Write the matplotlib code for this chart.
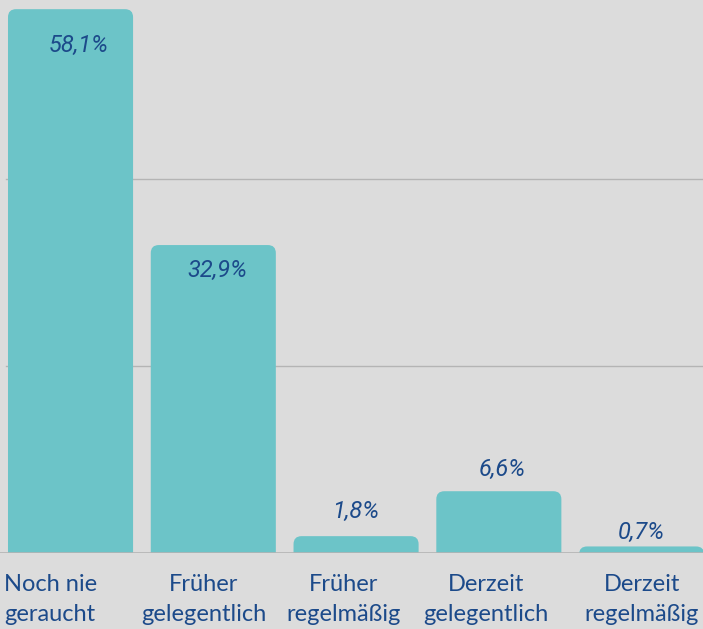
import matplotlib
matplotlib.use("Agg")
import matplotlib.pyplot as plt
from matplotlib.patches import FancyBboxPatch

categories = ["Noch nie\ngeraucht", "Früher\ngelegentlich", "Früher\nregelmäßig",
              "Derzeit\ngelegentlich", "Derzeit\nregelmäßig"]
values = [58.1, 32.9, 1.8, 6.6, 0.7]
value_labels = ["58,1%", "32,9%", "1,8%", "6,6%", "0,7%"]

bg = "#dcdcdc"
bar_col = "#6cc4c8"
text_col = "#1c4a8a"

fig = plt.figure(figsize=(7.03, 6.29), dpi=100, facecolor=bg)
ax = fig.add_axes([0, 1 - 553 / 629, 1, 553 / 629])
ax.set_facecolor(bg)
ax.set_xlim(-0.494, 4.43)
ax.set_ylim(0, 59.08)

x = range(len(values))
bars = ax.bar(x, values, width=0.876, color=bar_col, zorder=2)

# swap the plain rectangles for ones with rounded top corners
px_x = 142.75
px_y = 9.36
r = 8 / px_x
for b in bars:
    b.set_visible(False)
    p = FancyBboxPatch((b.get_x(), -2), b.get_width(), b.get_height() + 2,
                       boxstyle=f"round,pad=0,rounding_size={r}",
                       mutation_aspect=px_x / px_y,
                       facecolor=bar_col, edgecolor="none", zorder=2)
    ax.add_patch(p)

for y in [20, 40]:
    ax.axhline(y, xmin=0.008, color="#b4b4b4", lw=1, zorder=1)
ax.axhline(0, color="#b4b4b4", lw=1.2, zorder=3)

# label offsets in pixels (negative = inside the bar)
dy_px = [-36, -25, 25, 22, 14]
dx_px = [8, 4, 0, 3, 0]
for i, (v, lab) in enumerate(zip(values, value_labels)):
    ax.annotate(lab, (i, v), xytext=(dx_px[i] * 0.72, dy_px[i] * 0.72),
                textcoords="offset points", ha="center", va="center",
                fontsize=17, style="italic", family="Roboto",
                color=text_col, zorder=4)

ax.set_xticks([])
ax.set_yticks([])
for s in ax.spines.values():
    s.set_visible(False)

cat_dx = [0, -0.065, -0.09, -0.09, 0.0]
for i, cat in enumerate(categories):
    if i == 0:
        ax.text(-0.466, -2.25, cat, ha="left", va="top", fontsize=17,
                family="Lato", color=text_col, linespacing=1.55, clip_on=False)
    else:
        ax.text(i + cat_dx[i], -2.25, cat, ha="center", va="top", fontsize=17,
                family="Lato", color=text_col, linespacing=1.55, clip_on=False)

fig.savefig("out.png", dpi=100, facecolor=bg)
